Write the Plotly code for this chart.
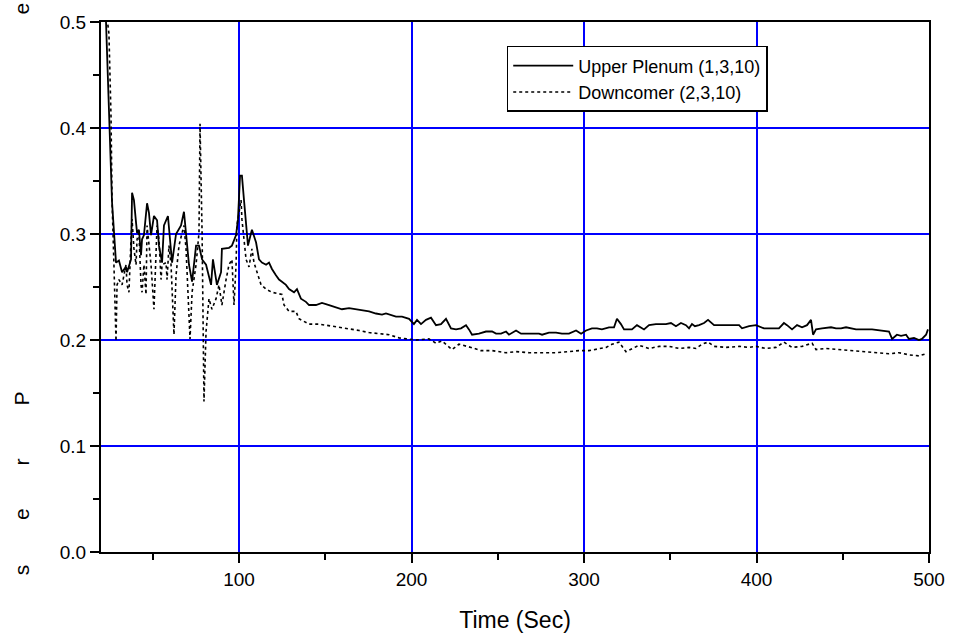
import plotly.graph_objects as go

# Upper Plenum (1,3,10) - solid
up_t = [22.5, 26.4, 28.7, 30.4, 32.2, 34.5, 35.1, 37.4, 38.0, 39.1, 40.3, 40.9, 42.0, 43.2, 43.8, 44.9,
        46.7, 47.8, 49.0, 50.7, 52.5, 53.6, 55.4, 56.5, 58.8, 60.6, 61.2, 63.5, 66.4, 68.1, 69.3, 71.0,
        72.8, 75.1, 76.8, 78.6, 80.9, 83.8, 84.9, 87.2, 89.6, 90.1, 94.2, 95.9, 98.3, 99.4, 100.6, 101.7,
        102.9, 104.1, 105.2, 107.0, 107.5, 109.9, 111.6, 113.3, 115.7, 117.4, 119.1, 121.4, 123.2, 124.9,
        127.2, 129.0, 131.9, 133.6, 135.9, 138.8, 140.6, 144.6, 148.1, 152.2, 156.2, 159.7, 163.8, 167.8,
        171.3, 175.4, 179.4, 182.9, 185.2, 187.0, 191.0, 194.5, 198.6, 201.4, 203.2, 205.5, 208.4, 211.3,
        214.2, 217.1, 220.0, 222.9, 225.8, 228.7, 231.6, 233.3, 235.1, 239.1, 243.2, 246.7, 249.0, 251.9,
        254.8, 256.5, 260.6, 263.5, 268.1, 273.9, 275.7, 279.7, 283.8, 287.2, 291.3, 295.4, 298.3, 301.2,
        304.6, 307.5, 310.4, 314.5, 317.4, 319.1, 321.4, 323.2, 327.8, 330.7, 334.8, 337.7, 341.7, 347.5,
        350.4, 353.3, 356.2, 359.1, 360.9, 362.6, 364.3, 366.7, 369.6, 371.9, 375.4, 382.3, 389.9, 391.6,
        395.7, 399.7, 404.3, 413.0, 415.9, 417.7, 420.6, 423.5, 426.4, 429.3, 431.6, 432.8, 434.5, 438.0,
        443.2, 446.1, 449.0, 451.9, 454.8, 457.7, 467.0, 472.2, 476.8, 478.6, 481.4, 483.8, 486.7, 488.4,
        491.3, 494.2, 495.9, 498.3, 499.4]
up_p = [0.520, 0.330, 0.273, 0.275, 0.264, 0.269, 0.264, 0.276, 0.339, 0.332, 0.311, 0.301, 0.304, 0.280, 0.295, 0.299,
        0.329, 0.320, 0.299, 0.317, 0.313, 0.289, 0.273, 0.308, 0.317, 0.289, 0.273, 0.300, 0.308, 0.321, 0.301, 0.271,
        0.255, 0.289, 0.289, 0.276, 0.271, 0.252, 0.276, 0.252, 0.264, 0.286, 0.287, 0.289, 0.299, 0.314, 0.355, 0.355,
        0.332, 0.308, 0.289, 0.301, 0.304, 0.292, 0.276, 0.273, 0.271, 0.273, 0.267, 0.261, 0.257, 0.255,
        0.252, 0.248, 0.245, 0.248, 0.239, 0.236, 0.233, 0.233, 0.235, 0.233, 0.231, 0.229, 0.230, 0.229,
        0.228, 0.227, 0.225, 0.224, 0.225, 0.224, 0.222, 0.222, 0.220, 0.215, 0.219, 0.215, 0.219, 0.221,
        0.214, 0.215, 0.220, 0.211, 0.210, 0.211, 0.214, 0.210, 0.205, 0.206, 0.208, 0.208, 0.206, 0.206,
        0.208, 0.205, 0.209, 0.206, 0.206, 0.206, 0.205, 0.207, 0.207, 0.206, 0.206, 0.209, 0.206, 0.209,
        0.211, 0.211, 0.210, 0.212, 0.212, 0.220, 0.215, 0.210, 0.210, 0.214, 0.210, 0.214, 0.215, 0.215,
        0.216, 0.213, 0.216, 0.214, 0.211, 0.215, 0.213, 0.214, 0.216, 0.219, 0.214, 0.214, 0.214, 0.211,
        0.213, 0.214, 0.211, 0.211, 0.216, 0.214, 0.210, 0.214, 0.212, 0.214, 0.219, 0.205, 0.210, 0.211,
        0.212, 0.211, 0.211, 0.212, 0.211, 0.210, 0.210, 0.209, 0.208, 0.201, 0.205, 0.204, 0.205, 0.201,
        0.202, 0.200, 0.201, 0.205, 0.210]

# Downcomer (2,3,10) - dotted
dc_t = [22.3, 24.6, 25.8, 26.4, 27.5, 28.7, 29.3, 30.4, 32.2, 34.5, 35.1, 36.2, 37.4, 38.0, 39.1, 40.3,
        40.9, 42.0, 43.2, 43.8, 44.9, 46.1, 46.7, 47.8, 49.0, 50.7, 51.9, 52.5, 53.6, 54.8, 55.4, 57.7,
        58.3, 59.4, 60.6, 61.2, 62.3, 63.5, 65.2, 67.0, 68.1, 69.3, 69.9, 71.6, 72.8, 75.1, 76.8, 77.4,
        78.6, 79.1, 79.7, 80.9, 81.4, 82.6, 84.3, 86.7, 88.4, 90.1, 92.5, 94.2, 95.9, 97.1, 98.3, 98.8,
        101.2, 101.7, 102.9, 104.1, 105.8, 107.5, 108.7, 110.4, 112.8, 115.7, 119.1, 124.9, 126.1, 129.0,
        133.0, 134.8, 140.6, 146.4, 150.4, 156.2, 162.0, 167.8, 169.6, 175.4, 181.2, 187.0, 192.8, 198.6,
        202.6, 210.1, 214.2, 217.7, 223.5, 227.5, 230.4, 234.5, 240.3, 246.7, 254.8, 260.6, 268.1, 275.7,
        283.8, 291.3, 297.1, 302.9, 307.0, 312.8, 316.2, 320.3, 324.3, 327.8, 331.9, 337.7, 343.5, 349.3,
        355.1, 360.9, 364.9, 368.4, 371.9, 375.4, 382.3, 389.9, 395.7, 399.7, 405.5, 411.3, 415.9, 420.6,
        426.4, 432.2, 434.5, 440.3, 447.8, 455.4, 463.5, 471.0, 476.8, 482.6, 488.4, 494.2, 498.3]
dc_p = [0.520, 0.489, 0.411, 0.332, 0.271, 0.199, 0.252, 0.257, 0.252, 0.271, 0.252, 0.245, 0.295, 0.314, 0.286, 0.271,
        0.295, 0.301, 0.252, 0.245, 0.271, 0.243, 0.308, 0.289, 0.271, 0.229, 0.286, 0.308, 0.295, 0.257, 0.271, 0.273,
        0.257, 0.289, 0.271, 0.245, 0.205, 0.261, 0.289, 0.301, 0.308, 0.286, 0.264, 0.201, 0.245, 0.271, 0.301, 0.404,
        0.301, 0.208, 0.142, 0.208, 0.217, 0.239, 0.229, 0.239, 0.252, 0.233, 0.257, 0.271, 0.276, 0.233, 0.271, 0.308,
        0.332, 0.314, 0.295, 0.276, 0.269, 0.286, 0.273, 0.264, 0.252, 0.248, 0.245, 0.243, 0.233, 0.227,
        0.227, 0.220, 0.215, 0.215, 0.214, 0.213, 0.211, 0.210, 0.209, 0.207, 0.206, 0.205, 0.202, 0.201,
        0.200, 0.201, 0.197, 0.199, 0.191, 0.196, 0.195, 0.193, 0.190, 0.190, 0.188, 0.189, 0.188, 0.188,
        0.188, 0.189, 0.190, 0.190, 0.191, 0.193, 0.196, 0.198, 0.189, 0.192, 0.195, 0.192, 0.194, 0.194,
        0.192, 0.193, 0.192, 0.196, 0.198, 0.194, 0.193, 0.194, 0.193, 0.194, 0.192, 0.193, 0.198, 0.193,
        0.194, 0.197, 0.191, 0.192, 0.191, 0.190, 0.189, 0.188, 0.187, 0.188, 0.186, 0.185, 0.187]

x_ticks = [100, 200, 300, 400, 500]
y_ticks = [0.0, 0.1, 0.2, 0.3, 0.4, 0.5]
y_title_letters = ["P", "r", "e", "s", "e"]

FONT = "Liberation Sans, Arial, sans-serif"

fig = go.Figure()
fig.add_trace(go.Scatter(x=up_t, y=up_p, mode="lines", name="Upper Plenum (1,3,10)",
                         line=dict(color="black", width=1.8)))
fig.add_trace(go.Scatter(x=dc_t, y=dc_p, mode="lines", name="Downcomer (2,3,10)",
                         line=dict(color="black", width=1.6, dash="dot")))

axis_common = dict(showline=True, linecolor="black", linewidth=2, mirror=True,
                   ticks="outside", ticklen=9, tickwidth=1.5, tickcolor="black",
                   showgrid=True, gridcolor="#0000FF", gridwidth=2, zeroline=False,
                   tickfont=dict(family=FONT, size=19, color="black"))

fig.update_xaxes(range=[20, 500], tickvals=x_ticks, ticktext=[str(v) for v in x_ticks],
                 minor=dict(ticks="outside", ticklen=6, tickcolor="black", tickwidth=1.5,
                            dtick=50, tick0=0, showgrid=False),
                 title=dict(text="Time (Sec)", font=dict(family=FONT, size=23, color="black"), standoff=23),
                 **axis_common)
fig.update_yaxes(range=[0, 0.5], tickvals=y_ticks, ticktext=[f"{v:.1f}" for v in y_ticks],
                 minor=dict(ticks="outside", ticklen=6, tickcolor="black", tickwidth=1.5,
                            dtick=0.05, tick0=0, showgrid=False),
                 **axis_common)

# scattered rotated y-title letters as in the reference
letter_pos = [0.272, 0.160, 0.056, -0.047, 1.040]
for ch, yp in zip(y_title_letters, letter_pos):
    fig.add_annotation(text=ch, xref="paper", yref="paper", x=-0.112, y=yp,
                       showarrow=False, textangle=-90,
                       font=dict(family=FONT, size=21, color="black"))

fig.update_layout(
    width=957, height=643,
    margin=dict(l=101, r=27, t=18, b=91),
    plot_bgcolor="white", paper_bgcolor="white",
    showlegend=True,
    legend=dict(x=0.49, y=0.955, xanchor="left", yanchor="top",
                bgcolor="white", bordercolor="black", borderwidth=1.5,
                font=dict(family=FONT, size=18, color="black"),
                itemwidth=60, tracegroupgap=0),
)

fig.write_html("out.html", config={"displayModeBar": False},
               post_script="document.body.style.margin='0';document.body.style.overflow='hidden';")
